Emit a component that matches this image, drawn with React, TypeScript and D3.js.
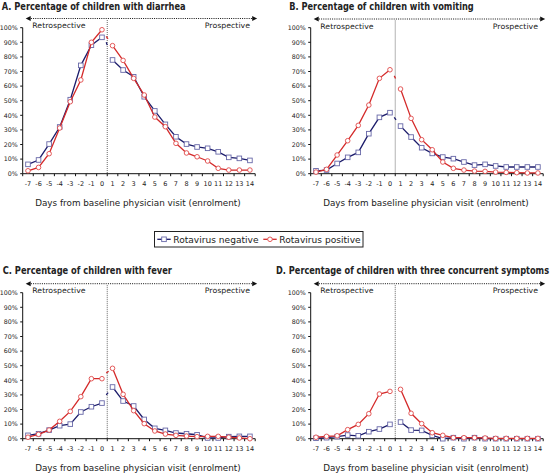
import React, { useLayoutEffect, useRef, useState } from "react";
import * as d3 from "d3";

const days = ["-7","-6","-5","-4","-3","-2","-1","0","1","2","3","4","5","6","7","8","9","10","11","12","13","14"];
const yTicks = [0,10,20,30,40,50,60,70,80,90,100];
const seriesNames = ["Rotavirus negative", "Rotavirus positive"];
const panelTitles = [
  "A. Percentage of children with diarrhea",
  "B. Percentage of children with vomiting",
  "C. Percentage of children with fever",
  "D. Percentage of children with three concurrent symptoms",
];
const xAxisTitle = "Days from baseline physician visit (enrolment)";
const retroLabel = "Retrospective";
const prosLabel = "Prospective";

const diarrheaNeg = [6.4,9.4,20.3,32,50.7,74.2,88,93.4,77.9,71,66.4,52.7,43,33.8,25.3,20.3,18.3,17.4,15,11.2,10.5,9.1];
const diarrheaPos = [2,4.3,13.7,31.3,49.3,64.2,90,98.6,87.7,77.6,65.3,53.9,38.8,32.2,20.8,14.2,11.6,8.7,3.7,2.5,2.5,2.5];
const vomitingNeg = [2,2.5,7,11.2,14.6,27.4,38.6,41.8,32.6,25.1,17.8,13.9,11.4,10.3,8,5.9,6.4,5.3,4.6,4.6,4.6,4.6];
const vomitingPos = [1.1,3,12.8,22.6,33.1,47,65.3,71.2,58,37.9,23.3,16.4,8,3.7,2.5,1.8,1.6,1.1,0.9,0.7,0.5,0.5];
const feverNeg = [2.3,3.4,5.9,8.9,10,18.3,21.9,24.4,35.4,25.8,22.4,13.2,7.1,5.7,3.9,3.4,2.7,0.5,0.5,1.4,1.6,1.6];
const feverPos = [1,3,5.9,11.9,18.7,28.8,41.1,41.1,48.2,30.4,19.2,10.3,5.3,3.2,2.3,1.8,1.4,1.6,1.6,1,0.5,0];
const threeNeg = [0.3,0.7,1.4,2.5,2,4.8,6.6,9.8,11.4,5.9,5.7,2.3,0,0.7,0,0.7,0,0,0,0,0,0];
const threePos = [1,1.6,2,6.2,9.8,17.1,30.6,32.4,33.8,17.4,10.3,4.1,2.3,0.7,0.7,0.7,0.5,0.2,0.2,0.2,0.2,0.2];

// value where the prospective line begins at the divider (short stub)
const stubNeg = [90, 38.5, 30, null];
const stubPos = [94, 67, 45, null];

const negData = [diarrheaNeg, vomitingNeg, feverNeg, threeNeg];
const posData = [diarrheaPos, vomitingPos, feverPos, threePos];

const NEG_LINE = "#1c1c6b";
const NEG_MARK = "#6868a8";
const POS_LINE = "#d42a2a";
const POS_MARK = "#e04848";
const FONT = "'DejaVu Sans', Verdana, sans-serif";

const layout = [
  { ax: 22.7, yTop: 27.7, yBot: 173.7, arrowY: 18.5, tx: 1.7, tw: 184.3, ty: 9.8 },
  { ax: 310.7, yTop: 27.7, yBot: 173.7, arrowY: 19, tx: 289.3, tw: 184.7, ty: 9.8 },
  { ax: 22.7, yTop: 292.7, yBot: 438.7, arrowY: 283.7, tx: 2.7, tw: 169.3, ty: 274 },
  { ax: 310.7, yTop: 292.7, yBot: 438.7, arrowY: 283.7, tx: 276, tw: 273.5, ty: 274 },
];
const PLOT_W = 232.5;

// text horizontally scaled to a target width (measured after layout)
function FitText({ x, y, width, anchor = "start", children, ...rest }: any) {
  const ref = useRef<SVGTextElement>(null);
  const [sx, setSx] = useState(1);
  useLayoutEffect(() => {
    if (ref.current) {
      const w = ref.current.getComputedTextLength();
      if (w > 0) setSx(width / w);
    }
  }, [width, children]);
  return (
    <g transform={`translate(${x},${y}) scale(${sx},1)`}>
      <text ref={ref} x={0} y={0} textAnchor={anchor} {...rest}>{children}</text>
    </g>
  );
}

function Panel({ i }: { i: number }) {
  const L = layout[i];
  const x = d3.scaleBand<string>().domain(days).range([L.ax, L.ax + PLOT_W]);
  const y = d3.scaleLinear().domain([0, 100]).range([L.yBot, L.yTop]);
  const cx = (d: string) => (x(d) as number) + x.bandwidth() / 2;
  const line = d3.line<[string, number]>().x((d) => cx(d[0])).y((d) => y(d[1]));
  const divX = (x("1") as number);
  const bw = x.bandwidth();
  const retroIdx = days.slice(0, 8);
  const prosIdx = days.slice(8);

  const renderSeries = (vals: number[], stub: number | null, color: string, mark: string, square: boolean, key: string) => {
    const retro = retroIdx.map((d, k) => [d, vals[k]] as [string, number]);
    const pros = prosIdx.map((d, k) => [d, vals[k + 8]] as [string, number]);
    return (
      <g key={key}>
        {stub !== null && (
          <line x1={divX - 1} y1={y(stub)} x2={cx("1")} y2={y(vals[8])} stroke={color} strokeWidth={1.3} strokeDasharray="3 200" />
        )}
        <path d={line(retro) as string} fill="none" stroke={color} strokeWidth={1.3} />
        <path d={line(pros) as string} fill="none" stroke={color} strokeWidth={1.3} />
        {[...retro, ...pros].map((d, k) =>
          square ? (
            <rect key={k} x={cx(d[0]) - 2.3} y={y(d[1]) - 2.3} width={4.6} height={4.6} fill="#fff" stroke={mark} strokeWidth={0.9} />
          ) : (
            <circle key={k} cx={cx(d[0])} cy={y(d[1])} r={2.3} fill="#fff" stroke={mark} strokeWidth={0.9} />
          )
        )}
      </g>
    );
  };

  const xEnd = L.ax + PLOT_W;
  return (
    <g>
      <FitText x={L.tx} y={L.ty} width={L.tw} fontFamily={FONT} fontWeight="bold" fontSize={10} fill="#222">
        {panelTitles[i]}
      </FitText>
      {/* retrospective / prospective arrow */}
      <line x1={L.ax + 6} x2={xEnd - 1} y1={L.arrowY} y2={L.arrowY} stroke="#111" strokeWidth={1} strokeDasharray="1 1.2" />
      <path d={`M${L.ax + 3},${L.arrowY} l5,-2.5 l0,5 z`} fill="#111" />
      <path d={`M${xEnd + 2},${L.arrowY} l-5,-2.5 l0,5 z`} fill="#111" />
      <FitText x={L.ax + 9.6} y={L.arrowY + 9.7} width={53.4} fontFamily={FONT} fontSize={7.5} fill="#222">{retroLabel}</FitText>
      <FitText x={L.ax + 227.3} y={L.arrowY + 9.7} width={45.3} anchor="end" fontFamily={FONT} fontSize={7.5} fill="#222">{prosLabel}</FitText>
      {/* divider */}
      <line x1={divX} x2={divX} y1={L.arrowY + 1.5} y2={L.yBot} stroke="#555" strokeWidth={0.9} strokeDasharray="1 1" />
      {/* y axis */}
      <line x1={L.ax} x2={L.ax} y1={L.yTop} y2={L.yBot} stroke="#111" strokeWidth={1} />
      {yTicks.map((t) => (
        <g key={t}>
          <line x1={L.ax - 2.5} x2={L.ax} y1={y(t)} y2={y(t)} stroke="#111" strokeWidth={1} />
          <text x={L.ax - 5} y={y(t) + 2.2} fontFamily={FONT} fontSize={6.3} fill="#222" textAnchor="end">{t}%</text>
        </g>
      ))}
      {/* x axis */}
      <line x1={L.ax} x2={xEnd} y1={L.yBot} y2={L.yBot} stroke="#111" strokeWidth={1} />
      {d3.range(days.length + 1).map((k) => (
        <line key={k} x1={L.ax + k * bw} x2={L.ax + k * bw} y1={L.yBot} y2={L.yBot + 2.5} stroke="#111" strokeWidth={1} />
      ))}
      {days.map((d) => (
        <text key={d} x={cx(d)} y={L.yBot + 12.5} fontFamily={FONT} fontSize={6.5} fill="#222" textAnchor="middle">{d}</text>
      ))}
      <FitText x={L.ax + PLOT_W / 2 - 1} y={L.yBot + 31.8} width={205.7} anchor="middle" fontFamily={FONT} fontSize={9} fill="#222">
        {xAxisTitle}
      </FitText>
      {renderSeries(negData[i], stubNeg[i], NEG_LINE, NEG_MARK, true, "neg")}
      {renderSeries(posData[i], stubPos[i], POS_LINE, POS_MARK, false, "pos")}
    </g>
  );
}

function Legend() {
  return (
    <g>
      <rect x={154.5} y={231.5} width={208.5} height={15.5} fill="#fff" stroke="#222" strokeWidth={1} />
      <line x1={157.3} x2={170.7} y1={239.3} y2={239.3} stroke={NEG_LINE} strokeWidth={1.3} />
      <rect x={161.7} y={237} width={4.6} height={4.6} fill="#fff" stroke={NEG_MARK} strokeWidth={0.9} />
      <FitText x={173.3} y={242.5} width={85.4} fontFamily={FONT} fontSize={8.5} fill="#222">{seriesNames[0]}</FitText>
      <line x1={263.3} x2={276.7} y1={239.3} y2={239.3} stroke={POS_LINE} strokeWidth={1.3} />
      <circle cx={270} cy={239.3} r={2.3} fill="#fff" stroke={POS_MARK} strokeWidth={0.9} />
      <FitText x={279.3} y={242.5} width={81.4} fontFamily={FONT} fontSize={8.5} fill="#222">{seriesNames[1]}</FitText>
    </g>
  );
}

export default function App() {
  return (
    <svg width={553} height={474} style={{ position: "absolute", left: 0, top: 0, background: "#fff" }}>
      <rect width={553} height={474} fill="#fff" />
      {[0, 1, 2, 3].map((i) => (
        <Panel key={i} i={i} />
      ))}
      <Legend />
    </svg>
  );
}
